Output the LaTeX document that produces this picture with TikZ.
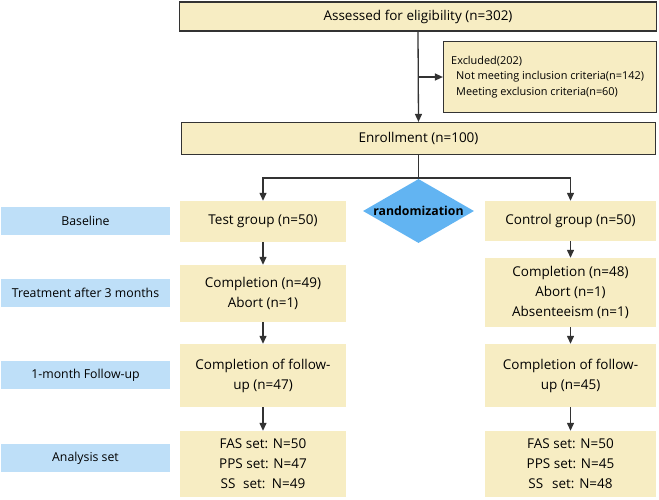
\documentclass[tikz,border=0pt]{standalone}
\usepackage{fontspec}
\setmainfont{Open Sans}
\usetikzlibrary{shapes.geometric,arrows.meta}
\definecolor{boxfill}{HTML}{F7EDC3}
\definecolor{lblfill}{HTML}{BEDFF8}
\definecolor{dmdfill}{HTML}{62B4F2}
\definecolor{linec}{HTML}{333333}
\tikzset{
  every node/.style={font=\fontsize{13.5}{20}\selectfont, inner sep=0pt, align=center},
  bordered/.style={draw=linec, line width=1.2pt, fill=boxfill, rectangle},
  plainbox/.style={fill=boxfill, rectangle},
  lbl/.style={fill=lblfill, rectangle, minimum width=169pt, minimum height=28pt, font=\fontsize{12.3}{16}\selectfont},
  arr/.style={draw=linec, line width=1.3pt, -{Triangle[length=8pt,width=7pt]}},
  ln/.style={draw=linec, line width=1.3pt}
}
\begin{document}
\begin{tikzpicture}[x=1pt,y=-1pt]
\useasboundingbox (0,0) rectangle (659,499);
% top boxes
\node[bordered, minimum width=477pt, minimum height=29pt] (top) at (418,16.5) {Assessed for eligibility (n=302)};
\node[bordered, minimum width=213pt, minimum height=71pt] (excl) at (550,77) {};
\node[anchor=west, align=left, font=\fontsize{10.9}{15.5}\selectfont] (excltxt) at (451,77) {Excluded(202)\\\hspace*{5pt}Not meeting inclusion criteria(n=142)\\\hspace*{5pt}Meeting exclusion criteria(n=60)};
\node[bordered, minimum width=474pt, minimum height=32pt] (enroll) at (418.5,138.5) {Enrollment (n=100)};
% labels
\node[lbl] (l1) at (85.5,221) {Baseline};
\node[lbl] (l2) at (85.5,292.5) {Treatment after 3 months};
\node[lbl] (l3) at (85.5,375) {1-month Follow-up};
\node[lbl] (l4) at (85.5,458) {Analysis set};
% test arm
\node[plainbox, minimum width=166pt, minimum height=41pt] (test) at (263,221.5) {Test group (n=50)};
\node[plainbox, minimum width=166pt, minimum height=57pt] (tcomp) at (263,293.5) {Completion (n=49)\\Abort (n=1)};
\node[plainbox, minimum width=166pt, minimum height=63pt] (tfu) at (263,375.5) {Completion of follow-\\up (n=47)};
\node[plainbox, minimum width=166pt, minimum height=66pt] (tan) at (263,464) {FAS set: N=50\\PPS set: N=47\\SS\hspace*{4pt} set:\hspace*{3pt} N=49};
% control arm
\node[plainbox, minimum width=171pt, minimum height=40pt] (ctrl) at (570.5,221) {Control group (n=50)};
\node[plainbox, minimum width=171pt, minimum height=69pt] (ccomp) at (570.5,292.5) {Completion (n=48)\\Abort (n=1)\\Absenteeism (n=1)};
\node[plainbox, minimum width=171pt, minimum height=63pt] (cfu) at (570.5,375.5) {Completion of follow-\\up (n=45)};
\node[plainbox, minimum width=171pt, minimum height=66pt] (can) at (570.5,464) {FAS set: N=50\\PPS set: N=45\\SS\hspace*{9pt}set: N=48};
% diamond
\node[diamond, fill=dmdfill, minimum width=111pt, minimum height=64pt, inner sep=0pt] (rand) at (418.5,211) {};
\node[font=\fontsize{12.3}{14}\bfseries\selectfont] (randtxt) at (418.5,211) {randomization};
% connectors
\draw[arr] (top.south) -- (enroll.north);
\coordinate (ex) at (418,77);
\draw[arr] (ex) -- (excl.west);
\coordinate (split) at (418.5,178);
\draw[ln] (enroll.south) -- (split);
\draw[arr] (split) -| (test.north);
\draw[arr] (split) -| (ctrl.north);
\draw[arr] (test) -- (tcomp);
\draw[arr] (tcomp) -- (tfu);
\draw[arr] (tfu) -- (tan);
\draw[arr] (ctrl) -- (ccomp);
\draw[arr] (ccomp) -- (cfu);
\draw[arr] (cfu) -- (can);
\end{tikzpicture}
\end{document}
